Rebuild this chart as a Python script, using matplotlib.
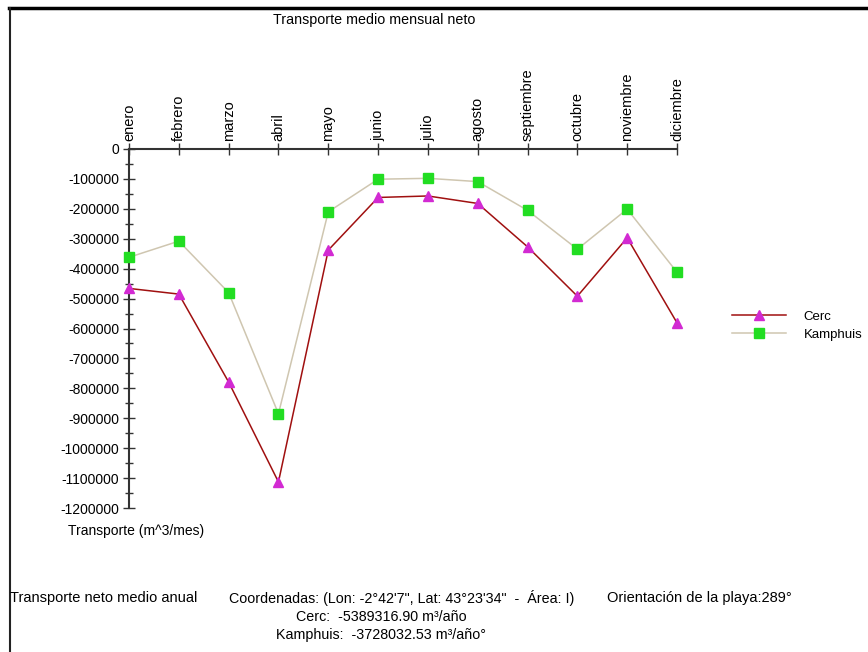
import matplotlib
matplotlib.use("Agg")
import matplotlib.pyplot as plt
from matplotlib.ticker import MultipleLocator

plt.rcParams['font.family'] = ['Liberation Sans', 'DejaVu Sans']

# Monthly net transport (m^3/mes)
meses = ['enero', 'febrero', 'marzo', 'abril', 'mayo', 'junio', 'julio',
         'agosto', 'septiembre', 'octubre', 'noviembre', 'diciembre']
cerc = [-466000, -485000, -779000, -1113000, -338000, -162000, -157000,
        -182000, -327000, -492000, -297000, -581000]
kamphuis = [-362000, -308000, -480000, -885000, -210000, -101000, -98000,
            -109000, -205000, -335000, -201000, -412000]
yticks = list(range(0, -1200001, -100000))

fig = plt.figure(figsize=(8.68, 6.52), dpi=100)
ax = fig.add_axes([129 / 868, 1 - 508 / 652, (677 - 129) / 868, (508 - 149) / 652])

x = list(range(len(meses)))
ax.plot(x, cerc, color='#a01010', lw=1.1, marker='^', ms=7,
        mfc='#d22ad2', mec='#d22ad2', label='Cerc', clip_on=False, zorder=3)
ax.plot(x, kamphuis, color='#cfc6b0', lw=1.1, marker='s', ms=7,
        mfc='#22dd22', mec='#22dd22', label='Kamphuis', clip_on=False, zorder=3)

ax.set_xlim(0, len(meses) - 1)
ax.set_ylim(-1200000, 0)

# axes: only top and left lines
for s in ['right', 'bottom']:
    ax.spines[s].set_visible(False)
for s in ['top', 'left']:
    ax.spines[s].set_color('#333333')
    ax.spines[s].set_linewidth(1.5)

ax.xaxis.tick_top()
ax.set_xticks(x)
ax.set_xticklabels(meses, rotation=90, fontsize=10.5)
ax.tick_params(axis='x', direction='inout', length=8, width=1, pad=2, color='#333333')

ax.set_yticks(yticks)
ax.set_yticklabels([str(v) for v in yticks], fontsize=10)
ax.yaxis.set_minor_locator(MultipleLocator(50000))
ax.tick_params(axis='y', which='major', direction='inout', length=8, width=1, pad=3, color='#333333')
ax.tick_params(axis='y', which='minor', direction='inout', length=6, width=1, color='#333333')

ax.legend(loc='center left', bbox_to_anchor=(1.10, 0.508), frameon=False,
          fontsize=9.5, handlelength=4.1, labelspacing=0.45, handletextpad=1.35,
          borderpad=0, borderaxespad=0)

fig.text(374 / 868, 1 - 20 / 652, 'Transporte medio mensual neto', ha='center',
         va='center', fontsize=10.3)
fig.text(68 / 868, 1 - 531 / 652, 'Transporte (m^3/mes)', ha='left', va='center', fontsize=10)

fig.text(10 / 868, 1 - 598 / 652, 'Transporte neto medio anual', ha='left', va='center', fontsize=10.5)
fig.text(229 / 868, 1 - 598 / 652,
         'Coordenadas: (Lon: -2°42\'7", Lat: 43°23\'34"  -  Área: I)',
         ha='left', va='center', fontsize=10.3)
fig.text(607 / 868, 1 - 598 / 652, 'Orientación de la playa:289°', ha='left',
         va='center', fontsize=10.5)
fig.text(381 / 868, 1 - 617 / 652, 'Cerc:  -5389316.90 m³/año', ha='center',
         va='center', fontsize=10.3)
fig.text(381 / 868, 1 - 635 / 652, 'Kamphuis:  -3728032.53 m³/año°', ha='center',
         va='center', fontsize=10.3)

# frame lines of the original window
fig.add_artist(plt.Line2D([9 / 868, 1], [1 - 8 / 652, 1 - 8 / 652], color='black', lw=2.5,
                          transform=fig.transFigure))
fig.add_artist(plt.Line2D([10 / 868, 10 / 868], [0, 1 - 8 / 652], color='#222222', lw=1.5,
                          transform=fig.transFigure))

fig.savefig('out.png', dpi=100)
